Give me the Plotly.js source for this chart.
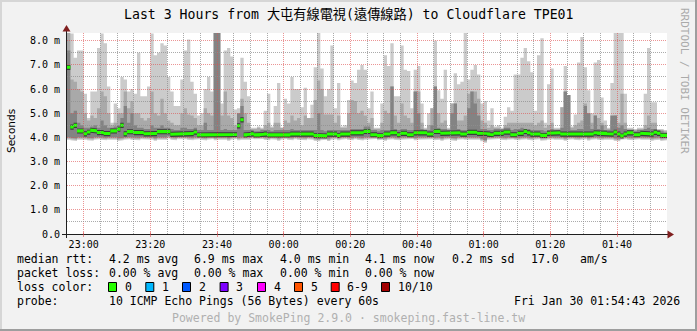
<!DOCTYPE html>
<html><head><meta charset="utf-8">
<script src="https://cdn.plot.ly/plotly-3.0.1.min.js"></script>
<style>
html,body{margin:0;padding:0;background:#f2f2f2;}
#wrap{position:relative;width:697px;height:331px;overflow:hidden;background:#f2f2f2;}
#chart{position:absolute;left:0;top:0;width:697px;height:331px;}
.fr{position:absolute;pointer-events:none;}
</style></head><body>
<div id="wrap"><div id="chart"></div>
<div class="fr" style="left:0;top:0;width:697px;height:2px;background:#d6d6d6"></div>
<div class="fr" style="left:0;top:0;width:2px;height:331px;background:#d6d6d6"></div>
<div class="fr" style="left:0;top:329px;width:697px;height:2px;background:#9e9e9e"></div>
<div class="fr" style="left:695px;top:0;width:2px;height:331px;background:#9e9e9e"></div>
</div>
<script>
// ---- data (ms), one value per 60 s bin starting 22:55 ----
const maxRtt = [
8.3,8.3,7.3,7.6,7.6,5.8,4.8,5.9,5.9,7.7,8.3,7.9,6.1,4.6,5.4,5.2,6.5,6.4,5.9,6.0,5.8,7.5,5.7,5.7,6.1,8.3,7.4,7.5,7.9,7.8,6.5,5.9,5.3,5.3,6.4,7.6,
8.05,6.3,5.8,4.9,5.0,6.0,6.5,5.9,8.5,8.5,5.4,7.6,7.7,7.35,5.15,5.2,7.3,6.3,5.7,4.4,4.4,4.45,4.4,5.1,5.8,4.45,5.3,6.25,4.4,5.6,5.4,6.5,6.0,6.0,5.25,6.05,
4.8,5.35,6.9,8.5,6.85,5.7,6.0,7.8,5.2,6.25,4.45,4.5,5.55,6.35,6.25,6.8,7.0,6.8,5.2,5.9,4.4,4.4,5.4,7.4,6.95,7.9,5.7,5.7,7.8,6.8,6.75,5.2,6.8,6.95,5.4,4.4,
5.0,5.2,8.0,5.95,5.6,6.8,4.4,5.4,6.65,6.2,6.3,8.5,6.4,6.8,7.0,6.6,5.4,5.5,4.7,5.2,4.45,4.5,4.4,4.85,5.25,5.1,6.6,6.6,7.3,7.7,7.15,6.7,5.1,7.4,8.1,4.6,
6.2,6.85,4.4,4.4,5.25,6.95,5.75,4.45,4.95,7.1,8.15,6.9,5.95,5.0,7.1,7.2,5.65,4.7,4.4,6.25,8.5,8.5,8.5,5.8,4.4,4.4,4.35,4.4,4.4,5.8,7.7,5.45,5.45,4.35,4.35,4.3];
const upperRtt = [
8.5,6.4,6.3,6.0,5.9,5.0,4.7,4.9,4.8,5.2,5.9,5.7,5.0,4.5,4.6,5.0,5.0,5.9,5.2,5.5,5.0,5.0,4.8,4.7,4.8,5.9,5.0,4.9,5.6,5.0,4.7,4.6,4.5,4.5,5.0,5.2,
4.95,4.9,4.8,4.5,4.5,5.2,5.0,4.9,8.5,8.5,4.9,5.9,4.9,4.8,4.5,5.0,5.6,5.0,4.6,4.35,4.35,4.4,4.35,4.5,4.6,4.4,4.6,4.6,4.4,4.7,4.6,4.9,4.7,4.8,4.5,4.9,
4.8,4.8,5.55,6.35,6.0,4.95,4.95,4.95,4.6,4.9,4.4,4.4,5.0,5.55,5.5,5.0,5.1,4.9,4.6,4.8,4.35,4.35,4.6,5.1,5.0,6.1,4.9,4.6,5.4,4.9,4.8,4.6,5.9,5.9,4.6,4.35,
4.5,5.2,6.1,5.0,4.6,4.7,4.35,5.4,5.4,4.7,4.7,4.9,5.8,5.9,5.9,5.6,4.7,4.6,4.4,4.5,4.4,4.4,4.35,4.5,4.6,4.6,4.6,4.6,4.6,4.6,4.6,4.6,4.5,4.6,4.7,4.4,
4.5,4.6,4.35,4.35,5.25,5.9,5.75,4.4,4.5,4.6,4.7,5.4,5.0,4.6,4.9,4.8,4.6,4.5,4.35,4.7,4.9,4.6,5.8,4.6,4.35,4.35,4.3,4.35,4.35,4.5,4.9,4.6,4.6,4.3,4.3,4.25];
const innerRtt = [
7.6,5.0,5.1,4.6,4.5,4.4,4.4,4.45,4.5,4.4,4.7,4.5,4.4,4.4,4.45,4.5,4.8,5.3,4.6,5.0,4.5,4.4,4.4,4.35,4.35,4.5,4.4,4.4,4.5,4.4,4.4,4.35,4.3,4.3,4.4,4.4,
4.35,4.35,4.4,4.3,4.3,4.6,4.3,4.3,8.5,8.5,4.3,4.35,4.3,4.3,4.3,5.0,5.3,4.3,4.3,4.3,4.25,4.25,4.3,4.3,4.3,4.25,4.3,4.3,4.3,4.3,4.3,4.35,4.3,4.3,4.3,4.3,
4.3,4.3,4.3,5.0,4.3,4.25,4.3,4.3,4.3,4.3,4.3,4.3,4.3,4.35,4.35,4.35,4.35,4.45,4.45,4.3,4.3,4.25,4.3,4.3,4.3,6.1,4.35,4.3,4.35,4.35,4.3,4.3,5.9,5.0,4.35,4.3,
4.3,4.5,6.1,4.4,4.35,4.35,4.3,5.0,5.4,4.35,4.3,4.3,5.2,5.9,5.4,4.9,4.35,4.35,4.3,4.3,4.35,4.35,4.35,4.4,4.4,4.3,4.35,4.35,4.4,4.35,4.35,4.3,4.3,4.3,4.3,4.25,
4.3,4.35,4.3,4.3,4.4,5.9,5.75,4.3,4.3,4.35,4.35,5.3,5.0,4.35,4.9,4.35,4.5,4.3,4.3,4.9,4.9,4.4,4.5,4.35,4.3,4.3,4.25,4.3,4.3,4.35,4.4,4.35,4.35,4.3,4.25,4.2];
const medianRtt = [
6.9,4.43,4.5,4.27,4.27,4.15,4.22,4.3,4.27,4.2,4.2,4.16,4.16,4.27,4.27,4.34,4.5,4.15,4.24,4.24,4.2,4.2,4.2,4.15,4.15,4.16,4.16,4.24,4.24,4.24,4.24,4.13,4.13,4.13,4.16,4.16,
4.16,4.16,4.22,4.1,4.1,4.1,4.1,4.1,4.1,4.11,4.11,4.11,4.13,4.13,4.12,4.48,4.73,4.1,4.12,4.15,4.1,4.1,4.12,4.14,4.1,4.1,4.12,4.1,4.12,4.1,4.1,4.14,4.12,4.12,4.12,4.12,
4.14,4.14,4.08,4.08,4.08,4.06,4.14,4.14,4.14,4.08,4.14,4.14,4.14,4.19,4.19,4.19,4.19,4.25,4.25,4.11,4.11,4.07,4.07,4.14,4.14,4.19,4.19,4.11,4.17,4.17,4.11,4.11,4.19,4.19,4.19,4.19,
4.14,4.14,4.25,4.25,4.17,4.17,4.17,4.17,4.19,4.19,4.14,4.14,4.21,4.21,4.21,4.17,4.17,4.17,4.14,4.11,4.17,4.17,4.17,4.22,4.22,4.11,4.11,4.17,4.17,4.25,4.19,4.14,4.14,4.14,4.08,4.08,
4.17,4.19,4.19,4.19,4.14,4.17,4.17,4.14,4.14,4.17,4.17,4.14,4.14,4.14,4.19,4.17,4.17,4.17,4.14,4.14,4.22,4.14,4.06,4.14,4.19,4.19,4.11,4.11,4.17,4.17,4.14,4.14,4.21,4.17,4.08,4.08];
const minRtt = [
3.9,3.88,3.85,3.9,3.92,3.9,3.88,3.86,3.9,3.92,3.9,3.88,3.9,3.92,3.9,3.85,3.88,3.9,3.92,3.9,3.9,3.88,3.92,3.9,3.93,3.9,3.86,3.9,3.92,3.9,3.95,3.9,3.88,3.92,3.9,3.92,
3.9,3.88,3.9,3.92,3.9,3.87,3.9,3.93,3.88,3.9,3.92,3.9,3.86,3.9,3.93,3.88,3.9,3.92,3.9,3.94,3.92,3.9,3.93,3.9,3.88,3.92,3.9,3.86,3.9,3.93,3.9,3.88,3.92,3.9,3.9,3.88,
3.92,3.9,3.86,3.84,3.88,3.9,3.85,3.9,3.92,3.88,3.9,3.93,3.9,3.88,3.92,3.9,3.87,3.9,3.92,3.9,3.93,3.88,3.9,3.86,3.9,3.92,3.9,3.88,3.9,3.92,3.9,3.93,3.88,3.9,3.92,3.9,
3.9,3.92,3.88,3.9,3.86,3.9,3.92,3.88,3.85,3.9,3.92,3.9,3.88,3.9,3.87,3.9,3.84,3.78,3.9,3.92,3.9,3.93,3.9,3.88,3.9,3.92,3.9,3.88,3.9,3.92,3.9,3.87,3.9,3.92,3.86,3.88,
3.9,3.92,3.9,3.88,3.9,3.86,3.9,3.92,3.9,3.88,3.9,3.92,3.87,3.9,3.92,3.9,3.88,3.9,3.92,3.9,3.86,3.84,3.9,3.92,3.9,3.88,3.9,3.92,3.9,3.88,3.9,3.86,3.88,3.9,3.85,3.88];

const xTickText = ['23:00','23:20','23:40','00:00','00:20','00:40','01:00','01:20','01:40'];
const yTickVals = [0,1,2,3,4,5,6,7,8];
const yTickText = ['0.0','1.0 m','2.0 m','3.0 m','4.0 m','5.0 m','6.0 m','7.0 m','8.0 m'];
const titleText = 'Last 3 Hours from 大屯有線電視(遠傳線路) to Cloudflare TPE01';
const rttStats = ['4.2 ms avg','6.9 ms max','4.0 ms min','4.1 ms now','0.2 ms sd','17.0','am/s'];
const lossStats = ['0.00 % avg','0.00 % max','0.00 % min','0.00 % now'];
const lossLabels = ['0','1','2','3','4','5','6-9','10/10'];
const lossColors = ['#26ff00','#00b8ff','#0059ff','#7e00ff','#ff00ff','#ff5500','#ff0000','#a10000'];
const probeText = '10 ICMP Echo Pings (56 Bytes) every 60s';
const dateText = 'Fri Jan 30 01:54:43 2026';
const poweredText = 'Powered by SmokePing 2.9.0 · smokeping.fast-line.tw';

[maxRtt,upperRtt,innerRtt,medianRtt,minRtt].forEach((a,k)=>{ if(a.length!==180) throw new Error('array '+k+' length '+a.length); });

// ---- geometry ----
const L=67, T=33, W=600, H=201, Y_MAX=201/24.16;
const STEP=60000;
const t0 = Date.UTC(2026,0,29,22,55,0);
const t1 = t0 + 180*STEP;
const PX = x => (x - L)/W;
const PY = y => (T + H - y)/H;

const n = medianRtt.length;
const xs=[];
for (let i=0;i<n;i++){ xs.push(t0+i*STEP); }

// step-shaped filled band between lo[i] and hi[i] for every bin
function band(lo, hi, color){
  const x=[], y=[];
  for (let i=0;i<n;i++){ x.push(xs[i], xs[i]+STEP); y.push(hi[i], hi[i]); }
  for (let i=n-1;i>=0;i--){ x.push(xs[i]+STEP, xs[i]); y.push(lo[i], lo[i]); }
  return {type:'scatter', mode:'lines', x:x, y:y, fill:'toself', fillcolor:color,
    line:{width:0, color:color}, hoverinfo:'skip', showlegend:false};
}
const lowMed = minRtt.map(v=>v+0.05);
const lowDark = minRtt.map(v=>v+0.1);
const blackLo = medianRtt.map(v=>v-0.11);
const blackHi = medianRtt.map(v=>v+0.1);
const greenLo = medianRtt.map(v=>v-0.065);
const greenHi = medianRtt.map(v=>v+0.065);
const traces = [
  band(minRtt, maxRtt, '#cbcbcb'),
  band(lowMed, upperRtt, '#a9a9a9'),
  band(lowDark, innerRtt, '#838383'),
  band(blackLo, blackHi, '#3c3c3c'),
  band(greenLo, greenHi, '#26ff00')
];

// ---- grid (drawn above data like rrdtool) ----
const shapes=[];
const GRID='rgba(143,143,143,0.75)', MGRID='rgba(222,79,79,0.6)';
const snapT = t => { const px = L + (t-t0)/(t1-t0)*W; const s = Math.floor(px)+0.5; return t0 + (s-L)/W*(t1-t0); };
const snapV = v => { const py = T + H*(1 - v/Y_MAX); const s = Math.floor(py)+0.5; return Y_MAX*(1-(s-T)/H); };
for (let m=5; m<180; m+=5){
  const t = t0 + m*STEP;
  const major = ((m - 5) % 20) === 0;
  shapes.push({type:'line', layer:'above', xref:'x', yref:'paper', x0:snapT(t), x1:snapT(t), y0:0, y1:1,
    line:{color: major?MGRID:GRID, width:1, dash:'1px,1px'}});
}
for (let k=1; k<=16; k++){
  const v = k*0.5;
  shapes.push({type:'line', layer:'above', xref:'paper', yref:'y', x0:0, x1:1, y0:snapV(v), y1:snapV(v),
    line:{color: (k%2===0)?MGRID:GRID, width:1, dash:'1px,1px'}});
}
// axes + arrows
shapes.push({type:'line', layer:'above', xref:'paper', yref:'paper', x0:PX(66.5), x1:PX(66.5), y0:PY(238), y1:PY(28), line:{color:'#1f1f1f', width:1}});
shapes.push({type:'line', layer:'above', xref:'paper', yref:'paper', x0:PX(62), x1:PX(670), y0:PY(234.5), y1:PY(234.5), line:{color:'#1f1f1f', width:1}});
const tri = (pts)=>'M'+pts.map(p=>PX(p[0])+','+PY(p[1])).join(' L')+' Z';
shapes.push({type:'path', layer:'above', xref:'paper', yref:'paper', path:tri([[66.5,25],[62.5,31.5],[70.5,31.5]]), fillcolor:'#801f1f', line:{width:0}});
shapes.push({type:'path', layer:'above', xref:'paper', yref:'paper', path:tri([[674,234.5],[667.5,230.5],[667.5,238.5]]), fillcolor:'#801f1f', line:{width:0}});
for (let m=5; m<180; m+=20){
  const t = t0 + m*STEP;
  shapes.push({type:'line', layer:'above', xref:'x', yref:'paper', x0:snapT(t), x1:snapT(t), y0:PY(232), y1:PY(237), line:{color:MGRID, width:1}});
}

// ---- texts ----
const MONO = 'DejaVu Sans Mono, Noto Sans CJK TC, monospace';
const anns=[];
function ann(text,x,y,o){ o=o||{};
  anns.push({text:text, xref:'paper', yref:'paper', x:PX(x), y:PY(y), showarrow:false,
    xanchor:o.xa||'left', yanchor:'middle', textangle:o.rot||0, borderpad:0,
    font:{family:o.fam||MONO, size:o.size||11.5, color:o.color||'#000'}});
}
ann(titleText, 348.5, 15, {xa:'center', size:13.2});
ann('Seconds', 11, 131, {xa:'center', rot:-90, fam:'DejaVu Sans', size:10.5});
ann('RRDTOOL / TOBI OETIKER', 685, 81, {xa:'center', rot:90, size:11, color:'#aaaaaa'});

const colX = [107.6,193,279,364.4,451,530,579];
const R1=259, R2=273, R3=287, R4=301, R5=318;
ann('median rtt:', 16, R1);
rttStats.forEach((s,i)=>ann(s, colX[i], R1));
ann('packet loss:', 16, R2);
lossStats.forEach((s,i)=>ann(s, colX[i], R2));
ann('loss color:', 16, R3);
const boxX = [108,145.3,182,219.6,257,294,330.7,381];
lossLabels.forEach((s,i)=>{
  shapes.push({type:'rect', layer:'above', xref:'paper', yref:'paper', x0:PX(boxX[i]+0.5), x1:PX(boxX[i]+8.5), y0:PY(R3+4.5), y1:PY(R3-4.5),
    fillcolor:lossColors[i], line:{color:'#000', width:1}});
  ann(s, boxX[i]+15.5, R3);
});
ann('probe:', 16, R4);
ann(probeText, 107.6, R4);
ann(dateText, 681, R4, {xa:'right'});
ann(poweredText, 348.5, R5, {xa:'center', color:'#b0b0b0'});

const tickVals = xTickText.map((s,k)=> t0 + (5 + 20*k)*STEP);

const layout = {
  width:697, height:331, margin:{l:L, r:697-L-W, t:T, b:331-T-H, pad:0},
  paper_bgcolor:'rgba(0,0,0,0)', plot_bgcolor:'#ffffff', showlegend:false,
  xaxis:{type:'date', range:[t0,t1], showgrid:false, zeroline:false, showline:false,
    tickmode:'array', tickvals:tickVals, ticktext:xTickText, ticks:'outside', ticklen:1, tickcolor:'rgba(0,0,0,0)',
    tickfont:{family:MONO, size:10, color:'#000'}, fixedrange:true},
  yaxis:{range:[0,Y_MAX], showgrid:false, zeroline:false, showline:false,
    tickmode:'array', tickvals:yTickVals, ticktext:yTickText, ticks:'outside', ticklen:4, tickcolor:'rgba(0,0,0,0)',
    tickfont:{family:MONO, size:10, color:'#000'}, fixedrange:true},
  shapes:shapes, annotations:anns
};
Plotly.newPlot('chart', traces, layout, {staticPlot:true, displayModeBar:false});
</script>
</body></html>
